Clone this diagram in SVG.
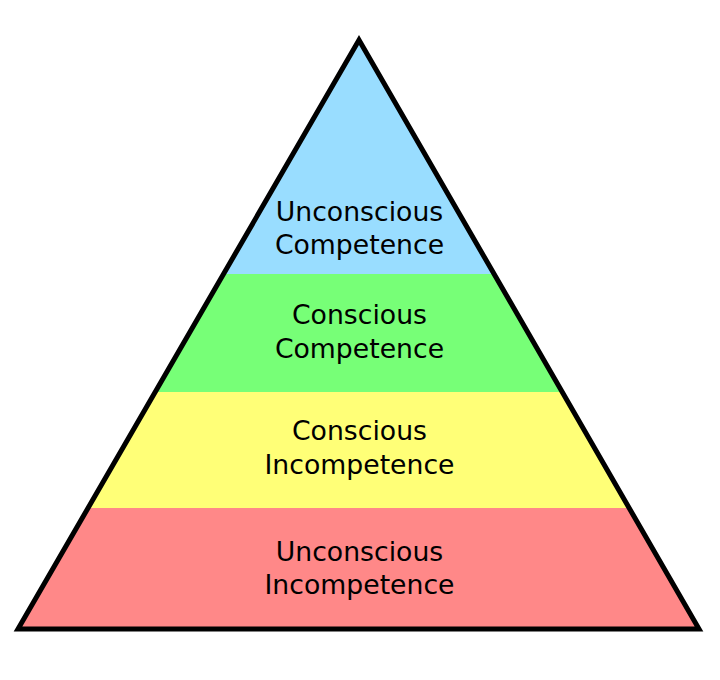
<svg xmlns="http://www.w3.org/2000/svg" width="720" height="680" viewBox="0 0 720 680">
<style>
text{font-family:"DejaVu Sans",sans-serif;font-size:26.7px;fill:#000;text-anchor:middle}
</style>
<defs>
<clipPath id="tri"><path d="M359,40 L18,629 L699,629 Z"/></clipPath>
</defs>
<rect width="720" height="680" fill="#fff"/>
<g clip-path="url(#tri)">
<g id="level4"><rect x="0" y="30" width="720" height="244" fill="#99ddff"/></g>
<g id="level3"><rect x="0" y="274" width="720" height="118" fill="#77ff77"/></g>
<g id="level2"><rect x="0" y="392" width="720" height="116" fill="#ffff77"/></g>
<g id="level1"><rect x="0" y="508" width="720" height="122" fill="#ff8888"/></g>
</g>
<path id="outline" d="M359,40 L18,629 L699,629 Z" fill="none" stroke="#000" stroke-width="5"/>
<g id="labels">
<text x="359.5" y="221">Unconscious</text>
<text x="359.5" y="254">Competence</text>
<text x="359.5" y="324">Conscious</text>
<text x="359.5" y="358">Competence</text>
<text x="359.5" y="440">Conscious</text>
<text x="359.5" y="474">Incompetence</text>
<text x="359.5" y="561">Unconscious</text>
<text x="359.5" y="594">Incompetence</text>
</g>
</svg>
